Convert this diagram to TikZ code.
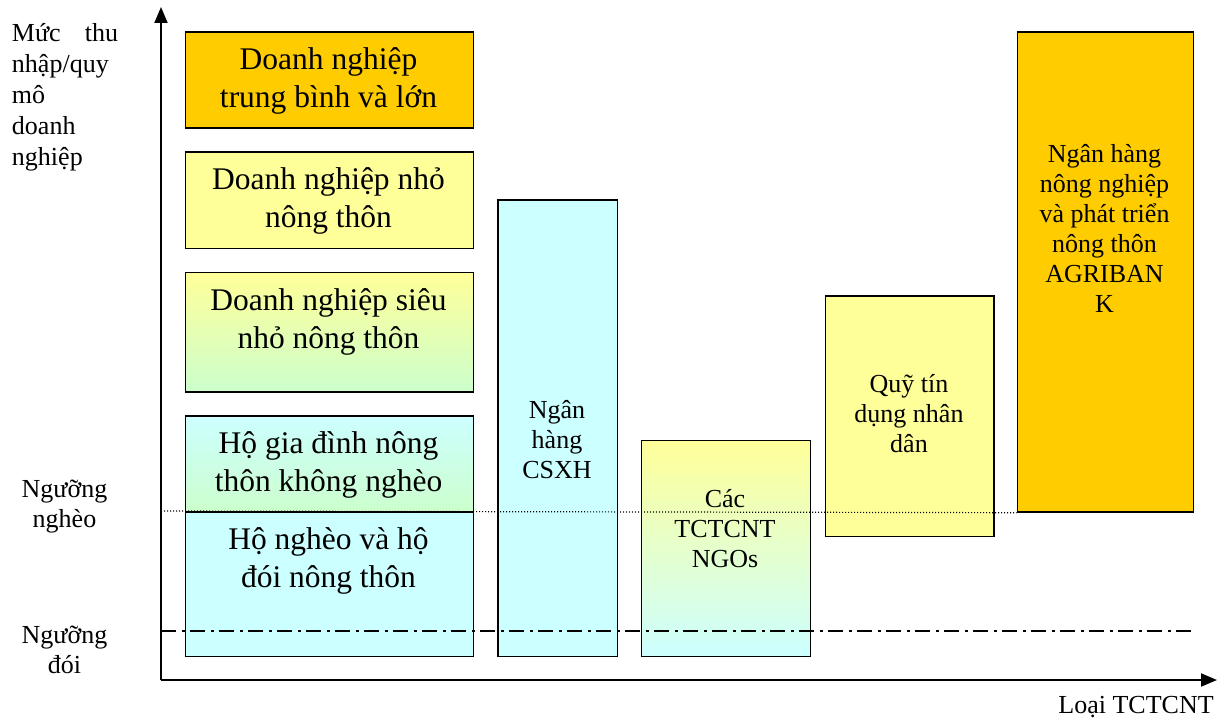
\documentclass[tikz,border=0pt]{standalone}
\usepackage{fontspec}
\setmainfont{Liberation Serif}
\usetikzlibrary{arrows.meta}
\definecolor{orangebox}{HTML}{FFCC00}
\definecolor{paleyellow}{HTML}{FFFF99}
\definecolor{palecyan}{HTML}{CCFFFF}
\definecolor{palegreen}{HTML}{CCFFCC}
\tikzset{
  panel/.style={draw=black, line width=1.7pt, inner sep=0pt, anchor=north west},
  bigtext/.style={font=\fontsize{31.5}{38}\selectfont, align=center, inner sep=0pt},
  smalltext/.style={font=\fontsize{26}{30}\selectfont, align=center, inner sep=0pt},
  axisline/.style={line width=1.9pt, -{Triangle[length=16pt,width=13pt]}},
  povertyline/.style={line width=1.2pt, dash pattern=on 1.2pt off 1.8pt},
  hungerline/.style={line width=1.4pt, dash pattern=on 15pt off 6pt on 3pt off 5pt},
}
\begin{document}
\begin{tikzpicture}[x=1pt, y=-1pt]
\useasboundingbox (0,0) rectangle (1231,722);

% panels: households and enterprises
\node[panel, fill=orangebox, minimum width=288pt, minimum height=96pt] (large) at (184.5,31.5) {};
\node[panel, fill=paleyellow, minimum width=288pt, minimum height=96.5pt] (small) at (184.5,151) {};
\node[panel, top color=paleyellow, bottom color=palegreen, minimum width=288pt, minimum height=119.5pt] (micro) at (184.5,271.5) {};
\node[panel, top color=palecyan, bottom color=palegreen, minimum width=288pt, minimum height=96pt] (nonpoor) at (184.5,415) {};
\node[panel, fill=palecyan, minimum width=288pt, minimum height=144.5pt] (poor) at (184.5,511) {};

% panels: financial institutions
\node[panel, fill=palecyan, minimum width=119.5pt, minimum height=456pt] (vbsp) at (497,199.5) {};
\node[panel, top color=paleyellow, bottom color=palecyan, minimum width=169pt, minimum height=216pt] (ngo) at (640.5,439.5) {};
\node[panel, fill=paleyellow, minimum width=168.5pt, minimum height=240.5pt] (pcf) at (824.5,295) {};
\node[panel, fill=orangebox, minimum width=176pt, minimum height=479.5pt] (agri) at (1016.5,31.5) {};

% panel texts
\node[bigtext] (tlarge) at (328.5,81) {Doanh nghiệp\\trung bình và lớn};
\node[bigtext] (tsmall) at (328.5,201) {Doanh nghiệp nhỏ\\nông thôn};
\node[bigtext] (tmicro) at (328.5,321.5) {Doanh nghiệp siêu\\nhỏ nông thôn};
\node[bigtext] (tnonpoor) at (328.5,465) {Hộ gia đình nông\\thôn không nghèo};
\node[bigtext] (tpoor) at (328.5,561) {Hộ nghèo và hộ\\đói nông thôn};
\node[smalltext] (tvbsp) at (557,440) {Ngân\\hàng\\CSXH};
\node[smalltext] (tngo) at (725,529) {Các\\TCTCNT\\NGOs};
\node[smalltext] (tpcf) at (909,414) {Quỹ tín\\dụng nhân\\dân};
\node[smalltext] (tagri) at (1104.5,228) {Ngân hàng\\nông nghiệp\\và phát triển\\nông thôn\\AGRIBAN\\K};

% threshold lines
\coordinate (povL) at (161,511);
\coordinate (hunL) at (161,631);
\coordinate (hunR) at (1193,631);
\draw[povertyline] (povL) -- (agri.south west);
\draw[hungerline] (hunL) -- (hunR);

% axes
\coordinate (O) at (161,680);
\coordinate (ytip) at (161,7);
\coordinate (xtip) at (1217,680);
\draw[axisline] (O) -- (ytip);
\draw[axisline] (O) -- (xtip);

% axis and threshold labels
\node[font=\fontsize{26}{31}\selectfont, text width=106pt, align=left, inner sep=0pt] (ylabel) at (65,97)
  {Mức\hfill thu\\nhập/quy\\mô\\doanh\\nghiệp};
\node[smalltext] (lpov) at (64.5,507) {Ngưỡng\\nghèo};
\node[smalltext] (lhun) at (64.5,650) {Ngưỡng\\đói};
\node[smalltext] (xlabel) at (1136,707) {Loại TCTCNT};
\end{tikzpicture}
\end{document}
